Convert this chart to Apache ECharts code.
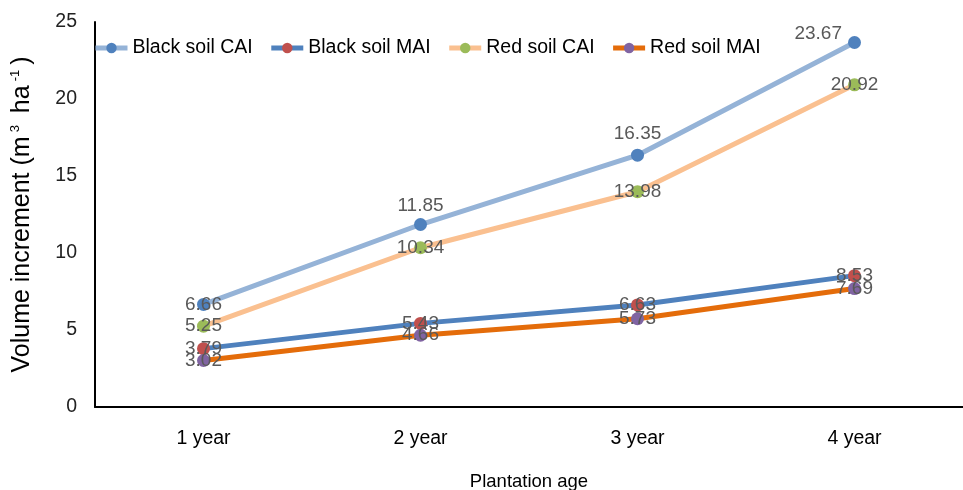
<!DOCTYPE html>
<html>
<head>
<meta charset="utf-8">
<title></title>
<script type="text/javascript" src="https://cdn.jsdelivr.net/npm/echarts@6/dist/echarts.min.js"></script>
<style>
  body { margin: 0; background: #fff; }
</style>
</head>
<body>
<div id="chart" style="width:963px;height:490px;"></div>
<script type="text/javascript">
// plantation age on x axis
var ages = ['1 year', '2 year', '3 year', '4 year'];
var blackCAI = [6.66, 11.85, 16.35, 23.67];
var blackMAI = [3.79, 5.43, 6.63, 8.53];
var redCAI = [5.25, 10.34, 13.98, 20.92];
var redMAI = [3.02, 4.66, 5.73, 7.69];
var yTicks = [0, 5, 10, 15, 20, 25];

var chart = echarts.init(document.getElementById('chart'));
var font = 'Liberation Sans, Arial, sans-serif';

var lbl = {
  show: true,
  position: 'inside',
  color: '#595959',
  fontSize: 19,
  fontFamily: font
};

function mkSeries(name, vals, lineColor, dotColor, posList) {
  return {
    name: name,
    type: 'line',
    data: vals.map(function (v, i) {
      var d = { value: v };
      if (posList && posList[i]) d.label = posList[i];
      return d;
    }),
    symbol: 'circle',
    symbolSize: 13,
    lineStyle: { color: lineColor, width: 5 },
    itemStyle: { color: dotColor },
    label: lbl,
    z: 3
  };
}

var option = {
  animation: false,
  grid: { left: 95, right: 0, top: 22, bottom: 83, outerBoundsMode: 'none', containLabel: false },
  legend: {
    left: 88,
    top: 33,
    itemWidth: 32,
    itemHeight: 13,
    itemGap: 16,
    lineStyle: { width: 5 },
    textStyle: { color: '#000', fontSize: 19.5, fontFamily: font },
    data: ['Black soil CAI', 'Black soil MAI', 'Red soil CAI', 'Red soil MAI']
  },
  xAxis: {
    type: 'category',
    data: ages,
    name: 'Plantation age',
    nameLocation: 'middle',
    nameGap: 65,
    nameTextStyle: { color: '#000', fontSize: 18.5, fontFamily: font },
    axisLine: { lineStyle: { color: '#000', width: 2 } },
    axisTick: { show: false },
    axisLabel: { color: '#000', fontSize: 19.5, fontFamily: font, margin: 22 }
  },
  yAxis: {
    type: 'value',
    min: yTicks[0],
    max: yTicks[yTicks.length - 1],
    interval: 5,
    name: 'Volume increment (m{sup|3} ha{sup|-1})',
    nameLocation: 'middle',
    nameGap: 60,
    nameTextStyle: {
      color: '#000', fontSize: 25, fontFamily: font,
      rich: { sup: { fontSize: 13, verticalAlign: 'top', padding: [0, 5, 13, 4], fontFamily: font, color: '#000' } }
    },
    axisLine: { show: true, lineStyle: { color: '#000', width: 2 } },
    axisTick: { show: false },
    splitLine: { show: false },
    axisLabel: { color: '#222', fontSize: 19.5, fontFamily: font, margin: 18 }
  },
  series: [
    mkSeries('Black soil CAI', blackCAI, '#95b3d7', '#4f81bd', [
      null,
      { position: 'top', distance: 3 },
      { position: 'top', distance: 5 },
      { position: 'left', distance: 6, offset: [0, -9] }
    ]),
    mkSeries('Black soil MAI', blackMAI, '#4f81bd', '#c0504d'),
    mkSeries('Red soil CAI', redCAI, '#fac090', '#9bbb59'),
    mkSeries('Red soil MAI', redMAI, '#e46c0a', '#8064a2')
  ]
};

chart.setOption(option);
</script>
</body>
</html>
